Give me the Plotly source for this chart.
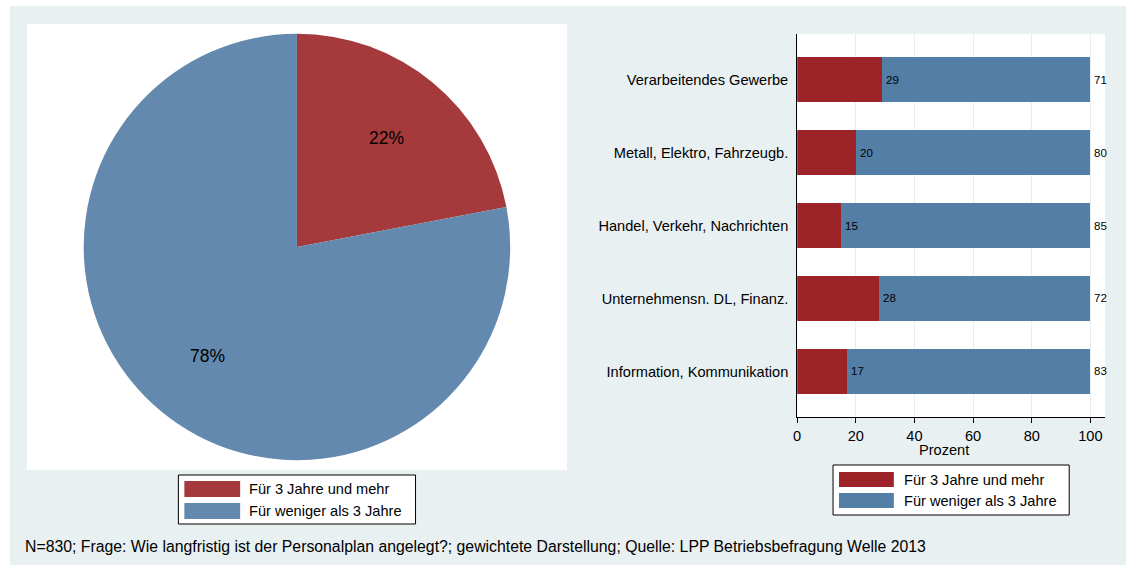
import math
import plotly.graph_objects as go

W, H = 1126, 565

# ---------------- data ----------------
series_names = ["Für 3 Jahre und mehr", "Für weniger als 3 Jahre"]
pie_values = [22, 78]
categories = [
    "Verarbeitendes Gewerbe",
    "Metall, Elektro, Fahrzeugb.",
    "Handel, Verkehr, Nachrichten",
    "Unternehmensn. DL, Finanz.",
    "Information, Kommunikation",
]
share_long = [29, 20, 15, 28, 17]
share_short = [71, 80, 85, 72, 83]
x_ticks = [0, 20, 40, 60, 80, 100]
footnote = ("N=830; Frage: Wie langfristig ist der Personalplan angelegt?; "
            "gewichtete Darstellung; Quelle: LPP Betriebsbefragung Welle 2013")

# ---------------- style ----------------
FONT = "Liberation Sans, Arial, Helvetica, sans-serif"
BG = "#e9f0f2"
pie_colors = ["#a53a3c", "#6389ae"]
bar_colors = ["#9c2327", "#537ea5"]
FS = 14.6


def px(x):
    return x / W


def py(y):
    return 1 - y / H


fig = go.Figure()

# Pie
pie_cx, pie_cy, pie_r = 294, 247, 214
fig.add_trace(go.Pie(
    values=pie_values, labels=series_names, sort=False,
    direction="clockwise", rotation=0, textinfo="none",
    marker=dict(colors=pie_colors, line=dict(width=0)),
    domain=dict(x=[px(pie_cx - pie_r), px(pie_cx + pie_r)],
                y=[py(pie_cy + pie_r), py(pie_cy - pie_r)]),
    showlegend=False,
))

# Bars
for name, vals, col in zip(series_names, [share_long, share_short], bar_colors):
    fig.add_trace(go.Bar(
        y=categories, x=vals, orientation="h", name=name,
        marker=dict(color=col, line=dict(width=0)),
        showlegend=False, xaxis="x", yaxis="y",
    ))

annotations = []
# pie percentage labels
total = sum(pie_values)
cum = 0
for v in pie_values:
    mid = (cum + v / 2) / total * 2 * math.pi
    cum += v
    lx = pie_cx + 0.66 * pie_r * math.sin(mid)
    ly = pie_cy - 0.66 * pie_r * math.cos(mid)
    annotations.append(dict(
        x=px(lx), y=py(ly), xref="paper", yref="paper",
        text=f"{round(v / total * 100)}%", showarrow=False,
        font=dict(family=FONT, size=17.5, color="black"),
        xanchor="center", yanchor="middle"))

# bar value labels
for cat, a, b in zip(categories, share_long, share_short):
    annotations.append(dict(x=a, y=cat, xref="x", yref="y", text=str(a),
                            showarrow=False, xanchor="left", xshift=2,
                            font=dict(family=FONT, size=11.5, color="black")))
    annotations.append(dict(x=a + b, y=cat, xref="x", yref="y", text=str(b),
                            showarrow=False, xanchor="left", xshift=2,
                            font=dict(family=FONT, size=11.5, color="black")))

# x axis title
annotations.append(dict(x=50, y=py(450), xref="x", yref="paper", text="Prozent",
                        showarrow=False, xanchor="center", yanchor="middle",
                        font=dict(family=FONT, size=FS, color="black")))

# footnote
annotations.append(dict(x=px(19), y=py(546), xref="paper", yref="paper",
                        text=footnote, showarrow=False, xanchor="left",
                        yanchor="middle",
                        font=dict(family=FONT, size=15.8, color="black")))

shapes = [
    dict(type="rect", xref="paper", yref="paper", x0=px(6), x1=1, y0=0, y1=py(6),
         fillcolor=BG, line=dict(width=0), layer="below"),
    dict(type="rect", xref="paper", yref="paper", x0=px(23), x1=px(565),
         y0=py(470), y1=py(24), fillcolor="white", line=dict(width=0), layer="below"),
    dict(type="rect", xref="paper", yref="paper", x0=px(796), x1=px(1105),
         y0=py(417), y1=py(34), fillcolor="white", line=dict(width=0), layer="below"),
]


def add_legend(x0, y0, x1, y1, sw_x0, sw_x1, sw_rows, text_x, colors):
    shapes.append(dict(type="rect", xref="paper", yref="paper",
                       x0=px(x0), x1=px(x1), y0=py(y1), y1=py(y0),
                       fillcolor="white", line=dict(color="black", width=1)))
    for (r0, r1), col, name in zip(sw_rows, colors, series_names):
        shapes.append(dict(type="rect", xref="paper", yref="paper",
                           x0=px(sw_x0), x1=px(sw_x1), y0=py(r1), y1=py(r0),
                           fillcolor=col, line=dict(width=0)))
        annotations.append(dict(x=px(text_x), y=py((r0 + r1) / 2),
                                xref="paper", yref="paper", text=name,
                                showarrow=False, xanchor="left", yanchor="middle",
                                font=dict(family=FONT, size=FS, color="black")))


add_legend(175, 475, 413, 524, 181, 237, [(481, 497), (503, 519)], 244, pie_colors)
add_legend(832, 465, 1069, 515, 838, 893, [(472, 487), (493, 508)], 901, bar_colors)

fig.update_layout(
    width=W, height=H,
    margin=dict(l=0, r=0, t=0, b=0),
    paper_bgcolor="white", plot_bgcolor="rgba(0,0,0,0)",
    barmode="stack", bargap=0.384,
    font=dict(family=FONT, size=FS, color="black"),
    xaxis=dict(domain=[px(796), px(1105)], range=[0, 105], tickvals=x_ticks,
               ticks="outside", ticklen=5, tickcolor="black",
               showline=True, linecolor="black", linewidth=1,
               showgrid=True, gridcolor="#e6eef1", gridwidth=1,
               zeroline=False, anchor="y",
               tickfont=dict(family=FONT, size=FS, color="black")),
    yaxis=dict(domain=[py(417), py(34)], categoryorder="array",
               categoryarray=categories, range=[4.625, -0.625],
               showline=True, linecolor="black", linewidth=1,
               ticks="", ticklabelstandoff=5, showgrid=False, zeroline=False,
               anchor="x", tickfont=dict(family=FONT, size=FS, color="black")),
    shapes=shapes, annotations=annotations,
)

fig.write_html(
    "out.html",
    config={"displayModeBar": False},
    post_script="document.body.style.margin='0';document.body.style.overflow='hidden';",
)
